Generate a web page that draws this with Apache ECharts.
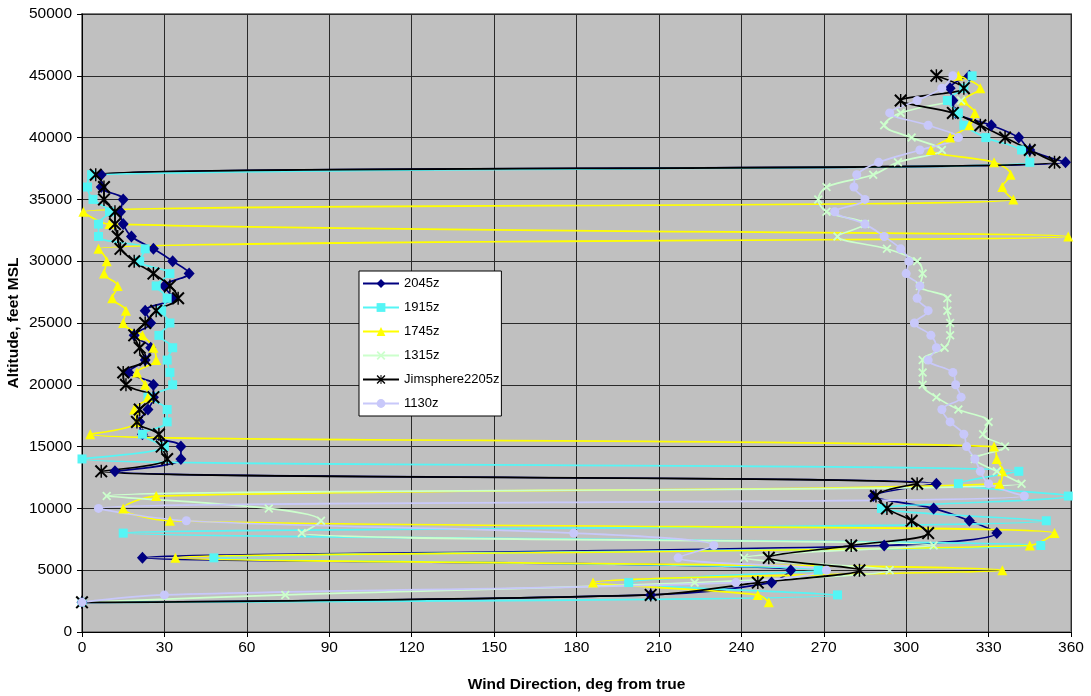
<!DOCTYPE html>
<html>
<head>
<meta charset="utf-8">
<script src="https://cdn.jsdelivr.net/npm/echarts@6/dist/echarts.min.js"></script>
<style>
html,body{margin:0;padding:0;background:#fff;}
#chart{width:1091px;height:696px;}
</style>
</head>
<body>
<div id="chart"></div>
<script>
// Altitudes (feet MSL) at which each profile is sampled
const altitudes = [2400, 3000, 4000, 5000, 6000, 7000, 8000, 9000, 10000, 11000,
  12000, 13000, 14000, 15000, 16000, 17000, 18000, 19000, 20000, 21000,
  22000, 23000, 24000, 25000, 26000, 27000, 28000, 29000, 30000, 31000,
  32000, 33000, 34000, 35000, 36000, 37000, 38000, 39000, 40000, 41000,
  42000, 43000, 44000, 45000];

// Wind direction (deg from true) per profile
const dir2045z = [0, 207, 251, 258, 22, 292, 333, 323, 310, 288,
  311, 12, 36, 36, 22, 21, 24, 26, 26, 17,
  23, 25, 19, 25, 23, 33, 30, 39, 33, 26,
  18, 15, 14, 15, 7, 7, 358, 345, 341, 331,
  318, 317, 316, 323];
const dir1915z = [0, 275, 199, 268, 48, 349, 15, 351, 291, 359,
  319, 341, 0, 30, 22, 31, 31, 24, 33, 32,
  31, 33, 28, 32, 29, 31, 27, 32, 21, 23,
  6, 6, 10, 4, 2, 3.5, 345, 342, 329, 321,
  319, 315, 321, 324];
const dir1745z = [250, 246, 186, 335, 34, 345, 354, 32, 15, 27,
  334, 335, 333, 332, 3, 20, 19, 24, 23, 20,
  27, 26, 22, 15, 16, 11, 13, 8, 9, 6,
  359, 10, 0.5, 339, 335, 338, 332, 309, 316, 323,
  325, 321, 327, 319];
const dir1315z = [0, 74, 223, 294, 241, 310, 80, 87, 68, 9,
  342, 333, 325, 336, 328, 330, 319, 311, 306, 306,
  306, 314, 316, 316, 315, 315, 305, 306, 304, 293,
  275, 285, 271, 268, 271, 288, 297, 313, 302, 292,
  298, 320];
const dirJimsphere2205z = [0, 207, 246, 283, 250, 280, 308, 302, 293, 289,
  304, 7, 31, 29, 28, 20, 21, 26, 16, 15,
  23, 21, 19, 23, 27, 35, 32, 26, 19, 14,
  13, 12, 12, 8, 8, 5, 354, 345, 336, 327,
  317, 298, 321, 311];
const dir1130z = [0, 30, 238, 271, 217, 230, 179, 38, 6, 343,
  330, 327, 325, 322, 321, 316, 313, 320, 318, 317,
  308, 311, 309, 303, 308, 304, 305, 300, 301, 298,
  292, 285, 274, 285, 281, 282, 290, 305, 319, 308,
  294, 304, 313, 317];

const seriesNames = ['2045z', '1915z', '1745z', '1315z', 'Jimsphere2205z', '1130z'];
const seriesDirs = [dir2045z, dir1915z, dir1745z, dir1315z, dirJimsphere2205z, dir1130z];

const xTicks = {min: 0, max: 360, interval: 30};
const yTicks = {min: 0, max: 50000, interval: 5000};

const FONT = '"Liberation Sans", Arial, sans-serif';
const xPath = 'path://M0,1.4L1.4,0L10,8.6L8.6,10ZM8.6,0L10,1.4L1.4,10L0,8.6Z';
const starPath = 'path://M0,1.1L1.1,0L10,8.9L8.9,10ZM8.9,0L10,1.1L1.1,10L0,8.9ZM4.45,0L5.55,0L5.55,10L4.45,10Z';

const styles = [
  {color: '#000080', symbol: 'diamond', size: [11, 12]},
  {color: '#55F5F5', symbol: 'rect', size: 9},
  {color: '#FFFF00', symbol: 'triangle', size: 10},
  {color: '#CCFFCC', symbol: xPath, size: 9},
  {color: '#000000', symbol: starPath, size: 13},
  {color: '#C8C8FA', symbol: 'circle', size: 9}
];

const series = seriesNames.map((name, i) => ({
  name: name,
  type: 'line',
  data: seriesDirs[i].map((d, k) => [d, altitudes[k]]),
  smooth: 0.35,
  symbol: styles[i].symbol,
  symbolSize: styles[i].size,
  showAllSymbol: true,
  animation: false,
  lineStyle: {color: styles[i].color, width: 1.7},
  itemStyle: {color: styles[i].color, borderWidth: 0},
  emphasis: {disabled: true}
}));

const chart = echarts.init(document.getElementById('chart'), null, {renderer: 'canvas'});
chart.setOption({
  backgroundColor: '#ffffff',
  animation: false,
  textStyle: {fontFamily: FONT},
  grid: {
    left: 82, right: 20, top: 14, bottom: 64,
    containLabel: false,
    outerBoundsMode: 'none',
    show: true, backgroundColor: '#C0C0C0', borderColor: '#808080', borderWidth: 2
  },
  legend: {
    orient: 'vertical',
    left: 359, top: 271,
    itemWidth: 36, itemHeight: 11, itemGap: 11,
    padding: [6, 2, 6, 3],
    backgroundColor: '#ffffff',
    borderColor: '#000000', borderWidth: 1,
    textStyle: {fontFamily: FONT, fontSize: 13, color: '#000'},
    data: seriesNames
  },
  xAxis: {
    type: 'value',
    min: xTicks.min, max: xTicks.max, interval: xTicks.interval,
    name: 'Wind Direction, deg from true',
    nameLocation: 'middle', nameGap: 45, nameMoveOverlap: false,
    nameTextStyle: {fontFamily: FONT, fontWeight: 'bold', fontSize: 15.5, color: '#000'},
    axisLine: {show: true, lineStyle: {color: '#000', width: 1}},
    axisTick: {show: true, length: 5, lineStyle: {color: '#000'}},
    axisLabel: {fontFamily: FONT, fontSize: 15.5, color: '#000', margin: 8},
    splitLine: {show: true, lineStyle: {color: '#2a2a2a', width: 1}}
  },
  yAxis: {
    type: 'value',
    min: yTicks.min, max: yTicks.max, interval: yTicks.interval,
    name: 'Altitude, feet MSL',
    nameLocation: 'middle', nameGap: 60, nameMoveOverlap: false,
    nameTextStyle: {fontFamily: FONT, fontWeight: 'bold', fontSize: 15.5, color: '#000'},
    axisLine: {show: true, lineStyle: {color: '#000', width: 1}},
    axisTick: {show: true, length: 5, lineStyle: {color: '#000'}},
    axisLabel: {fontFamily: FONT, fontSize: 15.5, color: '#000', margin: 10,
      formatter: v => String(v)},
    splitLine: {show: true, lineStyle: {color: '#2a2a2a', width: 1}}
  },
  series: series
});
</script>
</body>
</html>
